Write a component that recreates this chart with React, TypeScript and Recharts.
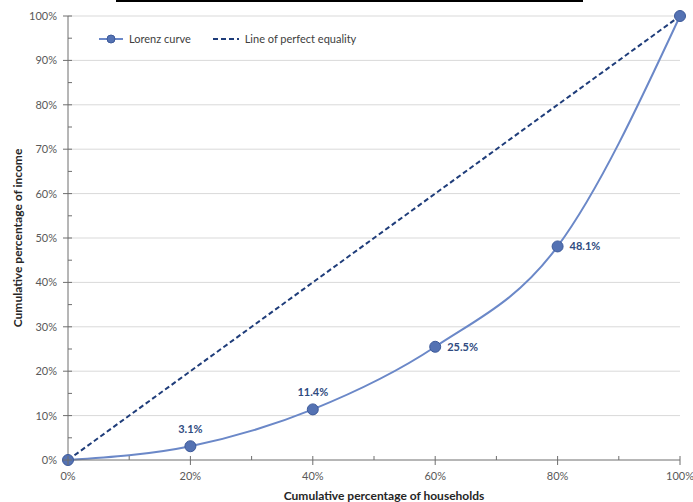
import React from "react";
import {
  LineChart,
  Line,
  XAxis,
  YAxis,
  CartesianGrid,
  Legend,
  LabelList,
} from "recharts";

const households = [0, 20, 40, 60, 80, 100];
const lorenzIncome = [0, 3.1, 11.4, 25.5, 48.1, 100];
const equalityIncome = [0, 20, 40, 60, 80, 100];

const xTicks = [0, 10, 20, 30, 40, 50, 60, 70, 80, 90, 100];
const yTicks = [
  0, 5, 10, 15, 20, 25, 30, 35, 40, 45, 50, 55, 60, 65, 70, 75, 80, 85, 90, 95, 100,
];
const gridValues = [10, 20, 30, 40, 50, 60, 70, 80, 90, 100];

const FONT = "Lato, 'Open Sans', sans-serif";
const CURVE = "#6b88c8";
const DOT_FILL = "#5472b3";
const DOT_STROKE = "#3d5a9a";
const EQUAL = "#1f3d7a";
const AXIS = "#6e6e6e";

const lorenzData = households.map((x, i) => ({ x, y: lorenzIncome[i] }));
const equalityData = households.map((x, i) => ({ x, y: equalityIncome[i] }));

function XTick({ x, y, payload }: any) {
  const major = payload.value % 20 === 0;
  return (
    <g>
      {major ? (
        <line x1={x} x2={x} y1={y - 4} y2={y + 5} stroke={AXIS} />
      ) : (
        <line x1={x} x2={x} y1={y} y2={y - 4} stroke={AXIS} />
      )}
      {major && (
        <text
          x={x}
          y={y + 20}
          textAnchor="middle"
          fontSize={11}
          fill="#595959"
          fontFamily={FONT}
        >
          {payload.value}%
        </text>
      )}
    </g>
  );
}

function YTick({ x, y, payload }: any) {
  const major = payload.value % 10 === 0;
  return (
    <g>
      {major ? (
        <line x1={x - 5} x2={x + 4} y1={y} y2={y} stroke={AXIS} />
      ) : (
        <line x1={x} x2={x + 4} y1={y} y2={y} stroke={AXIS} />
      )}
      {major && (
        <text
          x={x - 11}
          y={y + 4}
          textAnchor="end"
          fontSize={11}
          fill="#595959"
          fontFamily={FONT}
        >
          {payload.value}%
        </text>
      )}
    </g>
  );
}

function PointLabel({ x, y, value, index }: any) {
  if (index === 0 || index === households.length - 1) return null;
  const side = index >= 3;
  return (
    <text
      x={side ? x + 12 : x}
      y={side ? y + 4 : y - 13}
      textAnchor={side ? "start" : "middle"}
      fontSize={11}
      fontWeight={700}
      fill="#2f4b80"
      fontFamily={FONT}
    >
      {value}%
    </text>
  );
}

function LegendBox() {
  return (
    <div
      style={{
        display: "flex",
        alignItems: "center",
        fontFamily: FONT,
        fontSize: 11,
        color: "#404040",
        whiteSpace: "nowrap",
      }}
    >
      <svg width={24} height={10} style={{ marginRight: 6 }}>
        <line x1={0} x2={24} y1={5} y2={5} stroke={CURVE} strokeWidth={2} />
        <circle cx={12} cy={5} r={4} fill={DOT_FILL} stroke={DOT_STROKE} />
      </svg>
      <span>Lorenz curve</span>
      <svg width={26} height={10} style={{ marginLeft: 22, marginRight: 6 }}>
        <line
          x1={0}
          x2={26}
          y1={5}
          y2={5}
          stroke={EQUAL}
          strokeWidth={2}
          strokeDasharray="5 3"
        />
      </svg>
      <span>Line of perfect equality</span>
    </div>
  );
}

export default function App() {
  return (
    <div
      style={{
        position: "absolute",
        left: 0,
        top: 0,
        width: 693,
        height: 502,
        background: "#fff",
      }}
    >
      <div
        style={{
          position: "absolute",
          left: 116,
          top: 0,
          width: 467,
          height: 2,
          background: "#000",
        }}
      />
      <LineChart
        width={693}
        height={502}
        margin={{ top: 16, right: 13, left: 0, bottom: 0 }}
      >
        <CartesianGrid
          vertical={false}
          stroke="#d9d9d9"
          horizontalValues={gridValues}
        />
        <XAxis
          dataKey="x"
          type="number"
          domain={[0, 100]}
          ticks={xTicks}
          interval={0}
          height={42}
          tickSize={0}
          tickMargin={0}
          tick={<XTick />}
          stroke={AXIS}
          allowDuplicatedCategory={false}
          label={{
            value: "Cumulative percentage of households",
            position: "insideBottom",
            offset: 2,
            dx: 10,
            fontSize: 12,
            fontWeight: 700,
            fill: "#262626",
            fontFamily: FONT,
          }}
        />
        <YAxis
          dataKey="y"
          type="number"
          domain={[0, 100]}
          ticks={yTicks}
          interval={0}
          width={68}
          tickSize={0}
          tickMargin={0}
          tick={<YTick />}
          stroke={AXIS}
          label={{
            value: "Cumulative percentage of income",
            angle: -90,
            position: "insideLeft",
            offset: 18,
            style: { textAnchor: "middle" },
            fontSize: 12,
            fontWeight: 700,
            fill: "#262626",
            fontFamily: FONT,
          }}
        />
        <Legend
          layout="vertical"
          align="center"
          verticalAlign="middle"
          wrapperStyle={{ top: 32, left: 99, width: 300 }}
          content={<LegendBox />}
        />
        <Line
          data={equalityData}
          dataKey="y"
          name="Line of perfect equality"
          type="linear"
          stroke={EQUAL}
          strokeWidth={2}
          strokeDasharray="5 3"
          dot={false}
          activeDot={false}
          isAnimationActive={false}
        />
        <Line
          data={lorenzData}
          dataKey="y"
          name="Lorenz curve"
          type="monotone"
          stroke={CURVE}
          strokeWidth={2}
          dot={{ r: 5.5, fill: DOT_FILL, stroke: DOT_STROKE, strokeWidth: 1 }}
          activeDot={false}
          isAnimationActive={false}
        >
          <LabelList dataKey="y" content={<PointLabel />} />
        </Line>
      </LineChart>
    </div>
  );
}
